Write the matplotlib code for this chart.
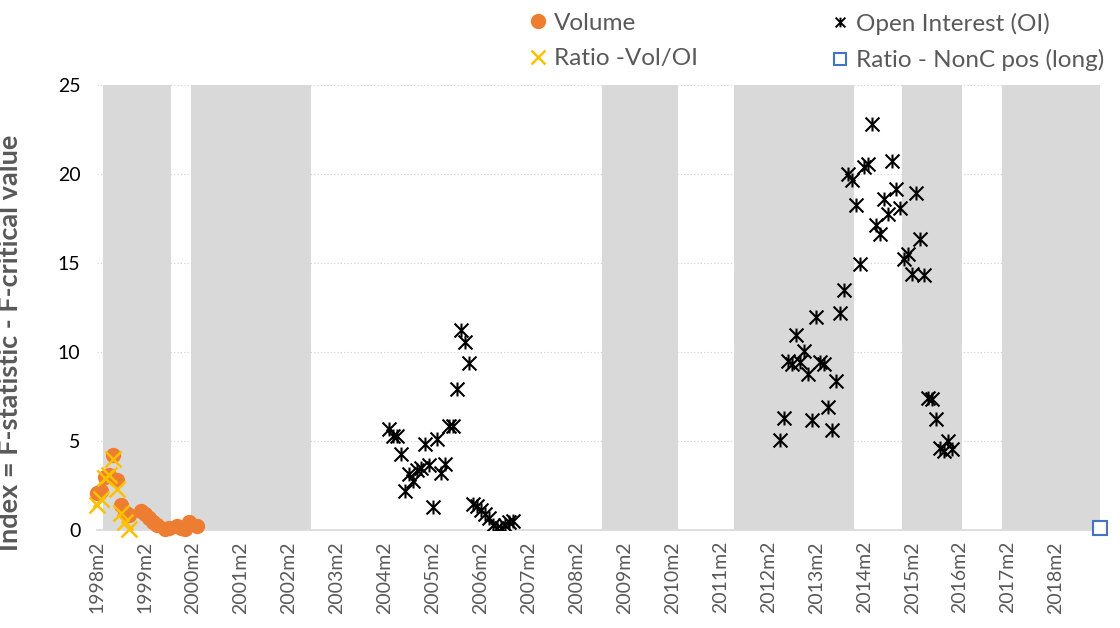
import numpy as np
import matplotlib.pyplot as plt
from matplotlib.path import Path

plt.rcParams['font.family'] = ['Lato', 'DejaVu Sans']

# shaded periods (start, end), monthly
bands = [('1998m4', '1999m8'), ('2000m2', '2002m7'), ('2008m9', '2010m3'),
         ('2011m6', '2013m11'), ('2014m12', '2016m2'), ('2017m1', '2019m1')]

volume_start = '1998m2'
volume = [2.1, 2.2, 3.0, 3.1, 4.2, 2.8, 1.4, 1.0, 0.85, None, None, 1.05, 0.9,
          0.7, 0.45, 0.3, None, 0.05, 0.1, None, 0.2, 0.1, 0.05, 0.45, None, 0.25]

ratio_start = '1998m2'
ratio = [1.4, 1.75, 2.9, 3.1, 4.0, 2.3, 0.95, 0.45, 0.05]

oi_a_start = '2004m3'
oi_a = [5.67, 5.3, 5.3, 4.26, 2.2, 3.13, 2.76, 3.36, 3.5, 4.83, 3.66, 1.3, 5.1,
        3.23, 3.7, 5.86, 5.86, 7.92, 11.24, 10.55, 9.37, 1.45, 1.35, 1.1, 0.88,
        0.65, 0.3, 0.1, 0.13, 0.3, 0.45, 0.5]

oi_b_start = '2012m5'
oi_b = [5.05, 6.27, 9.52, 9.33, 10.96, 9.42, 10.08, 8.77, 6.18, 11.95, 9.42,
        9.33, 6.93, 5.63, 8.39, 12.18, 13.5, 19.99, 19.65, 18.28, 14.96, 20.4,
        20.55, 22.8, 17.12, 16.65, 18.58, 17.78, 20.72, 19.16, 18.11, 15.24,
        15.52, 14.4, 18.94, 16.37, 14.3, 7.42, 7.36, 6.23, 4.63, 4.45, 5.01, 4.54]

nonc_dates = ['2019m1']
nonc = [0.1]

tick_labels = ['%dm2' % y for y in range(1998, 2019)]


def mi(s):
    y, m = s.split('m')
    return (int(y) - 1998) * 12 + int(m) - 2


def series(start, vals):
    x = mi(start) + np.arange(len(vals))
    y = np.array([np.nan if v is None else v for v in vals], dtype=float)
    return x, y


# Excel-like star marker: X plus vertical bar
star = Path([(-1, -1), (1, 1), (-1, 1), (1, -1), (0, -1), (0, 1)],
            [Path.MOVETO, Path.LINETO, Path.MOVETO, Path.LINETO, Path.MOVETO, Path.LINETO])

fig = plt.figure(figsize=(11.2, 6.28), dpi=100)
ax = fig.add_axes([97 / 1120, 1 - 530 / 628, 1003 / 1120, 445 / 628])

# shaded bars
for s, e in bands:
    months = np.arange(mi(s), mi(e) + 1)
    ax.bar(months, np.full(len(months), 25), width=1.0, color='#d9d9d9',
           linewidth=0, zorder=1)

gray = '#595959'
xv, yv = series(volume_start, volume)
ax.plot(xv, yv, 'o', color='#ED7D31', ms=10, zorder=3, clip_on=False)
xr, yr = series(ratio_start, ratio)
ax.plot(xr, yr, 'x', color='#FFC000', ms=11, mew=1.8, zorder=4, clip_on=False)
for st, vals in [(oi_a_start, oi_a), (oi_b_start, oi_b)]:
    xo, yo = series(st, vals)
    ax.plot(xo, yo, linestyle='none', marker=star, color='black', ms=10,
            mew=1.5, zorder=5)
ax.plot([mi(d) for d in nonc_dates], nonc, 's', mfc='white', mec='#4472C4',
        ms=10, mew=1.5, zorder=5, clip_on=False)

ax.set_xlim(0, 251)
ax.set_ylim(0, 25)
ax.set_yticks(range(0, 26, 5))
ax.set_xticks([mi(t) for t in tick_labels])
ax.set_xticklabels(tick_labels, rotation=90, fontsize=14, color=gray)
ax.tick_params(axis='y', labelsize=14, colors='black', length=0, pad=12)
ax.tick_params(axis='x', length=0, pad=8)
ax.yaxis.grid(True, linestyle=(0, (1, 2)), color='#d0d0d0', lw=0.8, zorder=0)
ax.set_axisbelow(True)
for sp in ['top', 'right', 'left']:
    ax.spines[sp].set_visible(False)
ax.spines['bottom'].set_color('#d9d9d9')
ax.spines['bottom'].set_linewidth(1.2)
ax.spines['bottom'].set_zorder(2)

ax.set_ylabel('Index = F-statistic - F-critical value', fontsize=19.5,
              fontweight='bold', color=gray)
ax.yaxis.set_label_coords(-0.075, 0.42)

# legend, two columns placed separately
h = [plt.Line2D([], [], ls='none', marker='o', color='#ED7D31', ms=10),
     plt.Line2D([], [], ls='none', marker='x', color='#FFC000', ms=10, mew=1.8),
     plt.Line2D([], [], ls='none', marker=star, color='black', ms=7, mew=1.4),
     plt.Line2D([], [], ls='none', marker='s', mfc='white', mec='#4472C4', ms=9, mew=1.5)]
labels = ['Volume', 'Ratio -Vol/OI', 'Open Interest (OI)', 'Ratio - NonC pos (long)']
for i, x0 in enumerate([531 / 1120, 833 / 1120]):
    leg = fig.legend(h[2 * i:2 * i + 2], labels[2 * i:2 * i + 2], loc='upper left',
                     bbox_to_anchor=(x0, 0.98), frameon=False, fontsize=17.5,
                     handlelength=0.6, handletextpad=0.35, labelspacing=0.6,
                     borderpad=0, borderaxespad=0, labelcolor=gray)

fig.savefig('out.png', dpi=100)
